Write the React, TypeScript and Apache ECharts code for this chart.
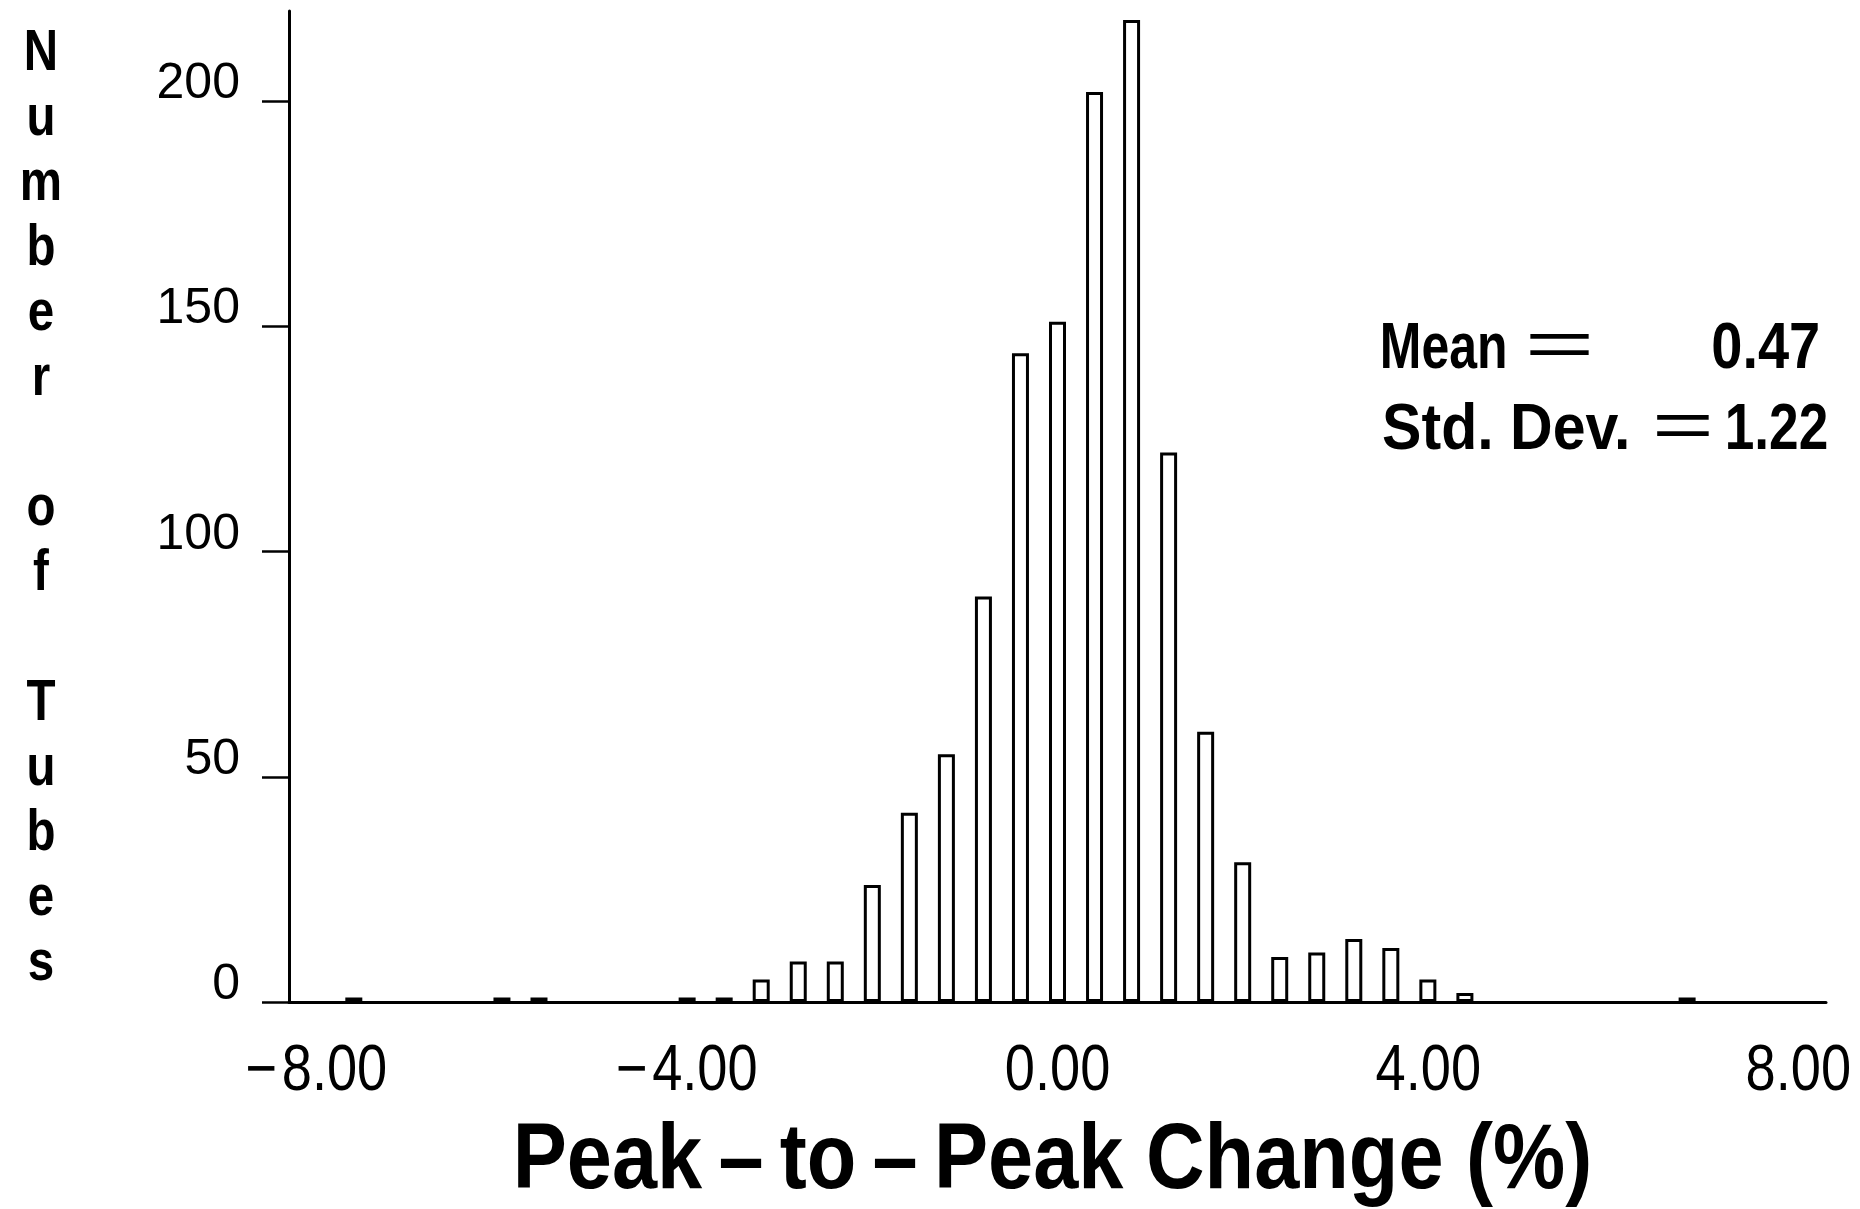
import React, { useEffect, useRef } from "react";
import * as echarts from "echarts";

const binCenters = [-7.6, -6.0, -5.6, -4.0, -3.6, -3.2, -2.8, -2.4, -2.0, -1.6, -1.2, -0.8, -0.4, 0.0, 0.4, 0.8, 1.2, 1.6, 2.0, 2.4, 2.8, 3.2, 3.6, 4.0, 4.4, 6.8];
const counts = [1, 1, 1, 1, 1, 5, 9, 9, 26, 42, 55, 90, 144, 151, 202, 218, 122, 60, 31, 10, 11, 14, 12, 5, 2, 1];
const xTicks = [-8, -4, 0, 4, 8];
const yTicks = [0, 50, 100, 150, 200];
const xTitle = "Peak\u2009\u2013\u2009to\u2009\u2013\u2009Peak Change (%)";
const yTitleLetters = ["N", "u", "m", "b", "e", "r", "", "o", "f", "", "T", "u", "b", "e", "s"];
const statLabels = ["Mean", "Std. Dev."];
const statValues = ["0.47", "1.22"];

const FONT = "'Liberation Sans', Arial, sans-serif";

function fmtX(v: number) {
  return (v < 0 ? "\u2212\u200A" : "") + Math.abs(v).toFixed(2);
}

export default function App() {
  const ref = useRef<HTMLDivElement>(null);
  useEffect(() => {
    const chart = echarts.init(ref.current!, null, { renderer: "svg" });
    const canvas = document.createElement("canvas");
    const ctx = canvas.getContext("2d")!;

    const measure = (text: string, weight: string, size: number) => {
      ctx.font = `${weight} ${size}px ${FONT}`;
      ctx.textAlign = "center";
      ctx.textBaseline = "alphabetic";
      const m = ctx.measureText(text);
      return {
        L: m.actualBoundingBoxLeft,
        R: m.actualBoundingBoxRight,
        mid: (m.fontBoundingBoxAscent - m.fontBoundingBoxDescent) / 2,
      };
    };

    // place text so its ink spans [inkLeft, inkRight] with the given baseline
    const fitText = (text: string, weight: string, size: number, inkLeft: number, inkRight: number, baseline: number, scale?: number) => {
      const m = measure(text, weight, size);
      const ink = m.L + m.R;
      const s = scale ?? (inkRight - inkLeft) / ink;
      const off = (m.R - m.L) / 2;
      return {
        type: "text",
        x: (inkLeft + inkRight) / 2 - off * s,
        y: baseline - m.mid,
        scaleX: s,
        silent: true,
        style: { text, fontSize: size, fontWeight: weight, fontFamily: FONT, fill: "#000", align: "center", verticalAlign: "middle" },
      };
    };

    const option: any = {
      animation: false,
      backgroundColor: "#fff",
      textStyle: { fontFamily: FONT, color: "#000" },
      grid: { left: 289, right: 34, top: 11, bottom: 207 },
      xAxis: {
        type: "value",
        min: -8.3,
        max: 8.3,
        axisLine: { show: true, onZero: false, lineStyle: { color: "#000", width: 3 } },
        axisTick: { show: false },
        splitLine: { show: false },
        axisLabel: { show: false },
      },
      yAxis: {
        type: "value",
        min: 0,
        max: 220,
        axisLine: { show: true, onZero: false, lineStyle: { color: "#000", width: 3 } },
        axisTick: { show: true, customValues: yTicks, length: 27, lineStyle: { color: "#000", width: 2.5 } },
        splitLine: { show: false },
        axisLabel: {
          customValues: yTicks,
          fontSize: 50,
          color: "#000",
          fontFamily: FONT,
          margin: 49,
          lineHeight: 40,
          verticalAlign: "bottom",
        },
      },
      series: [
        {
          type: "bar",
          data: binCenters.map((x, i) => [x, counts[i]]),
          barWidth: 17,
          itemStyle: { color: "#fff", borderColor: "#000", borderWidth: 3 },
        },
      ],
    };
    chart.setOption(option);

    // x tick labels placed from the axis scale
    const xLabelSize = 65;
    const ref0 = measure("0.00", "normal", xLabelSize);
    const xScale = 102 / (ref0.L + ref0.R);
    const xLabelEls = xTicks.map((v) => {
      const px = chart.convertToPixel({ xAxisIndex: 0 }, v) as number;
      const txt = fmtX(v);
      const m = measure(txt, "normal", xLabelSize);
      const w = (m.L + m.R) * xScale;
      return fitText(txt, "normal", xLabelSize, px - w / 2, px + w / 2, 1090, xScale);
    });

    const graphics: any[] = [
      ...xLabelEls,
      fitText(xTitle, "bold", 92, 518, 1589, 1188),
      {
        type: "text",
        x: 41,
        y: 17,
        scaleX: 0.82,
        silent: true,
        style: {
          text: yTitleLetters.join("\n"),
          fontSize: 58,
          fontWeight: "bold",
          lineHeight: 65,
          align: "center",
          verticalAlign: "top",
          fill: "#000",
          fontFamily: FONT,
        },
      },
      fitText(statLabels[0], "bold", 64, 1383, 1505, 368),
      fitText("=", "normal", 64, 1530, 1590, 366),
      fitText(statValues[0], "bold", 64, 1713, 1818, 368),
      fitText(statLabels[1], "bold", 64, 1383, 1627, 449),
      fitText("=", "normal", 64, 1657, 1710, 447),
      fitText(statValues[1], "bold", 64, 1728, 1827, 449),
    ];
    chart.setOption({ graphic: graphics });
    return () => chart.dispose();
  }, []);
  return <div ref={ref} style={{ position: "fixed", left: 0, top: 0, width: 1860, height: 1209, background: "#fff" }} />;
}
